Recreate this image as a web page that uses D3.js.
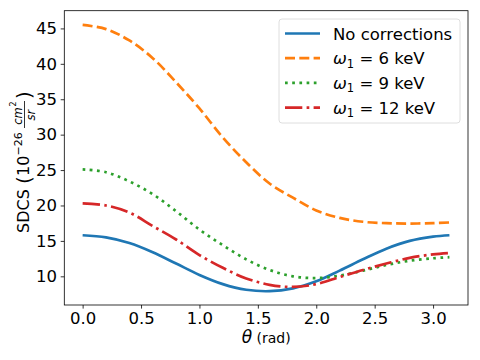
<!DOCTYPE html>
<html>
<head>
<meta charset="utf-8">
<script src="https://cdn.jsdelivr.net/npm/d3@7"></script>
<style>
    body { margin: 0; background: #fff; }
    text { font-family: "DejaVu Sans", sans-serif; fill: #000; }
</style>
</head>
<body>
<div id="chart"></div>
<script>
// Data (theta in rad, SDCS in 1e-26 cm^2/sr)
var theta = [0, 0.2, 0.4, 0.6, 0.8, 1.0, 1.2, 1.4, 1.6, 1.8, 2.0, 2.2, 2.4, 2.6, 2.8, 3.0, 3.14];
var noCorr = [15.8, 15.5, 14.7, 13.4, 11.8, 10.2, 8.9, 8.1, 7.9, 8.3, 9.3, 10.8, 12.4, 13.9, 15.0, 15.6, 15.8];
var w6 = [45.5, 44.9, 43.3, 40.8, 37.4, 33.7, 29.6, 26.1, 23.1, 21.1, 19.3, 18.25, 17.7, 17.5, 17.45, 17.5, 17.6];
var w9 = [25.1, 24.7, 23.4, 21.6, 19.2, 16.6, 14.4, 12.4, 10.9, 10.0, 9.75, 10.1, 10.8, 11.6, 12.2, 12.55, 12.7];
var w12 = [20.3, 20.0, 19.0, 17.1, 15.2, 13.0, 11.2, 9.7, 8.8, 8.5, 8.9, 9.9, 10.9, 11.8, 12.6, 13.1, 13.3];
var seriesNames = ["No corrections", "6", "9", "12"];
var xTicks = [0, 0.5, 1.0, 1.5, 2.0, 2.5, 3.0];
var yTicks = [10, 15, 20, 25, 30, 35, 40, 45];

var colors = ["#1f77b4", "#ff7f0e", "#2ca02c", "#d62728"];
var dashes = [null, "10,4.3", "2.7,4.5", "17.3,4.3,2.7,4.3"];
var series = [noCorr, w6, w9, w12];

var margin = { left: 64.3, right: 12, top: 10.7, bottom: 55 };
var width = 480 - margin.left - margin.right;
var height = 360 - margin.top - margin.bottom;

var svg = d3.select("#chart")
    .append("svg")
    .attr("width", 480)
    .attr("height", 360);

var g = svg.append("g")
    .attr("transform", "translate(" + margin.left + "," + margin.top + ")");

// Scales (matplotlib default 5% margins)
var x = d3.scaleLinear().domain([-0.157, 3.299]).range([0, width]);
var y = d3.scaleLinear().domain([5.95, 47.5]).range([height, 0]);

// Axes
var xAxisCall = d3.axisBottom(x)
    .tickValues(xTicks)
    .tickFormat(d3.format(".1f"))
    .tickSize(3.6)
    .tickPadding(3.6);
var xAxis = g.append("g")
    .attr("transform", "translate(0," + height + ")")
    .call(xAxisCall);

var yAxisCall = d3.axisLeft(y)
    .tickValues(yTicks)
    .tickSize(3.6)
    .tickPadding(3.6);
var yAxis = g.append("g")
    .call(yAxisCall);

[xAxis, yAxis].forEach(function(a){
    a.select(".domain").remove();
    a.selectAll("line").attr("stroke", "#000").attr("stroke-width", 0.8);
    a.selectAll("text")
        .attr("font-size", "16.5px")
        .attr("font-family", "DejaVu Sans");
});

// Lines
var line = d3.line()
    .x(function(d){ return x(d[0]); })
    .y(function(d){ return y(d[1]); })
    .curve(d3.curveCatmullRom.alpha(0.5));

series.forEach(function(s, i){
    g.append("path")
        .attr("fill", "none")
        .attr("stroke", colors[i])
        .attr("stroke-width", 2.7)
        .attr("stroke-dasharray", dashes[i])
        .attr("d", line(theta.map(function(t, j){ return [t, s[j]]; })));
});

// Frame
g.append("rect")
    .attr("width", width)
    .attr("height", height)
    .attr("fill", "none")
    .attr("stroke", "#000")
    .attr("stroke-width", 0.8);

// Legend
var legend = g.append("g")
    .attr("transform", "translate(" + (279 - margin.left) + "," + (19 - margin.top) + ")");
legend.append("rect")
    .attr("width", 181)
    .attr("height", 104)
    .attr("rx", 3)
    .attr("fill", "#fff")
    .attr("fill-opacity", 0.8)
    .attr("stroke", "#d6d6d6")
    .attr("stroke-width", 0.8);

seriesNames.forEach(function(name, i){
    var ly = 14.5 + i * 24.7;
    legend.append("line")
        .attr("x1", 6).attr("x2", 41)
        .attr("y1", ly).attr("y2", ly)
        .attr("stroke", colors[i])
        .attr("stroke-width", 2.7)
        .attr("stroke-dasharray", dashes[i]);
    var t = legend.append("text")
        .attr("x", 54)
        .attr("y", ly + 6)
        .attr("font-size", "16.5px");
    if (i == 0) {
        t.text(name);
    } else {
        t.append("tspan").attr("font-style", "italic").text("ω");
        t.append("tspan").attr("font-size", "11.5px").attr("dy", 3.5).text("1");
        t.append("tspan").attr("dy", -3.5).text(" = " + name + " keV");
    }
});

// X label
var xLabel = svg.append("text")
    .attr("x", margin.left + width / 2)
    .attr("y", 343)
    .attr("text-anchor", "middle");
xLabel.append("tspan").attr("font-size", "17px").attr("font-style", "italic").text("θ");
xLabel.append("tspan").attr("font-size", "14px").text(" (rad)");

// Y label: SDCS (10^-26 cm^2/sr)
var yLab = svg.append("g")
    .attr("transform", "translate(29,160) rotate(-90)");
yLab.append("text").attr("x", -73).attr("y", 0).attr("font-size", "16px").text("SDCS");
yLab.append("text").attr("x", -24).attr("y", 1.5).attr("font-size", "20px").text("(");
yLab.append("text").attr("x", -16).attr("y", 0).attr("font-size", "16px").text("10");
yLab.append("text").attr("x", 4.5).attr("y", -7.5).attr("font-size", "11px").text("−26");
yLab.append("text").attr("x", 44).attr("y", -7.5).attr("text-anchor", "middle")
    .attr("font-size", "11.5px").attr("font-style", "italic").text("cm");
yLab.append("text").attr("x", 53.5).attr("y", -13).attr("font-size", "8px").text("2");
yLab.append("line")
    .attr("x1", 32).attr("x2", 59)
    .attr("y1", -4.5).attr("y2", -4.5)
    .attr("stroke", "#000").attr("stroke-width", 0.8);
yLab.append("text").attr("x", 45).attr("y", 5.5).attr("text-anchor", "middle")
    .attr("font-size", "11.5px").attr("font-style", "italic").text("sr");
yLab.append("text").attr("x", 61).attr("y", 1.5).attr("font-size", "20px").text(")");
</script>
</body>
</html>
